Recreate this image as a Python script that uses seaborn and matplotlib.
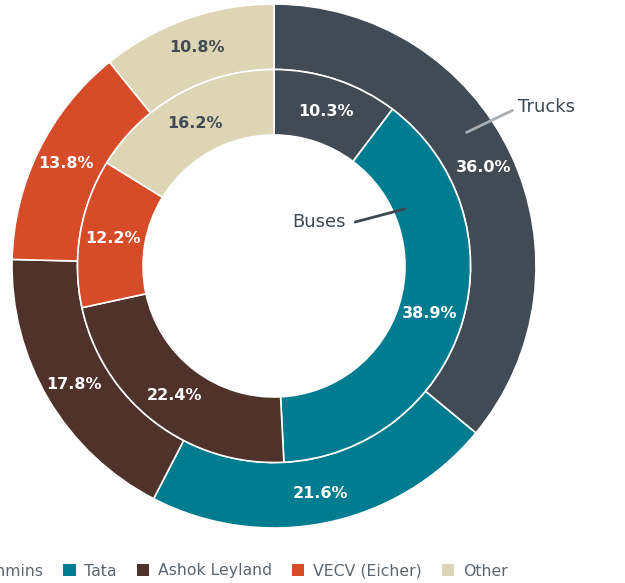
import matplotlib.pyplot as plt
import seaborn as sns
from matplotlib.patches import Patch

sns.set_theme(style="white")
plt.rcParams["font.family"] = ["DejaVu Sans"]

# DATOS

fabricantes = ["Cummins", "Tata", "Ashok Leyland", "VECV (Eicher)", "Other"]
camiones = [36.0, 21.6, 17.8, 13.8, 10.8]
autobuses = [10.3, 38.9, 22.4, 12.2, 16.2]

colores = ["#414b55", "#007c91", "#4f3229", "#d64b28", "#ddd5b3"]
color_texto = ["white", "white", "white", "white", "#414b55"]

# FIGURA

fig = plt.figure(figsize=(6.25, 5.83), dpi=100)
ax = fig.add_axes([12 / 625, 55 / 583, 524 / 625, 524 / 583])

# ANILLO EXTERIOR (TRUCKS)

_, _, textos_ext = ax.pie(
    camiones,
    colors=colores,
    radius=1.0,
    startangle=90,
    counterclock=False,
    autopct=lambda p: f"{p:.1f}%",
    pctdistance=0.885,
    wedgeprops=dict(width=0.25, edgecolor="white", linewidth=1.2)
)

# ANILLO INTERIOR (BUSES)

_, _, textos_int = ax.pie(
    autobuses,
    colors=colores,
    radius=0.75,
    startangle=90,
    counterclock=False,
    autopct=lambda p: f"{p:.1f}%",
    pctdistance=0.83,
    wedgeprops=dict(width=0.25, edgecolor="white", linewidth=1.2)
)

for grupo in (textos_ext, textos_int):
    for texto, col in zip(grupo, color_texto):
        texto.set_color(col)
        texto.set_fontsize(11.5)
        texto.set_fontweight("bold")

ax.set_xlim(-1, 1)
ax.set_ylim(-1, 1)
ax.set_aspect("equal")

# ETIQUETAS DE LOS ANILLOS

ax.plot([0.735, 0.91], [0.51, 0.594], color="#a9adb2", linewidth=2)
ax.text(0.93, 0.607, "Trucks", color="#3e4852", fontsize=13,
        ha="left", va="center")

ax.plot([0.31, 0.5], [0.168, 0.218], color="#3e4852", linewidth=2)
ax.text(0.272, 0.168, "Buses", color="#3e4852", fontsize=13,
        ha="right", va="center")

# LEYENDA

handles = [Patch(facecolor=c, edgecolor="none") for c in colores]

fig.legend(
    handles,
    fabricantes,
    loc="center left",
    bbox_to_anchor=(-52 / 625, 12 / 583),
    ncol=5,
    frameon=False,
    fontsize=11.3,
    handlelength=0.8,
    handleheight=0.85,
    handletextpad=0.55,
    columnspacing=1.27,
    borderpad=0,
    borderaxespad=0,
    labelcolor="#5b6670"
)

plt.savefig("out.png", dpi=100)
plt.close()
